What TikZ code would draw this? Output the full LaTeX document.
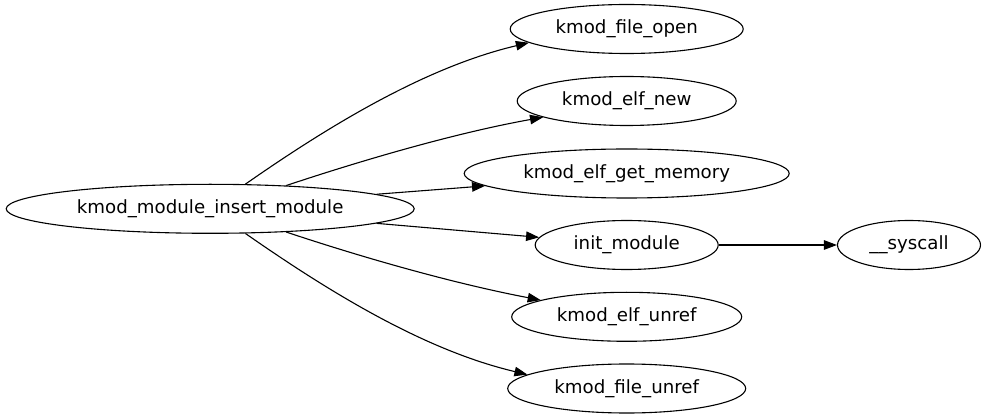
\documentclass[tikz,border=0pt]{standalone}
\usepackage{fontspec}
\setmainfont{DejaVu Sans}
\usepackage{tikz}
\usetikzlibrary{shapes.geometric, arrows.meta}

\begin{document}
\begin{tikzpicture}[x = 1pt, y = -1pt,
    funzione/.style = {ellipse, draw, line width = 1.1pt, inner sep = 0pt, minimum height = 49pt, font = \fontsize{18.2}{22}\selectfont},
    chiamata/.style = {line width = 1.1pt, -{Triangle[length = 13pt, width = 9.5pt]}}]
    \useasboundingbox (0,0) rectangle (987,419);
    \pgfmathsetmacro{\xcol}{626.7}
    % Nodi
    \node[funzione, minimum width = 408pt] (insert) at (210.2,208.8) {kmod\_module\_insert\_module};
    \node[funzione, minimum width = 233pt] (fileopen) at (\xcol,29) {kmod\_file\_open};
    \node[funzione, minimum width = 219pt] (elfnew) at (\xcol,101) {kmod\_elf\_new};
    \node[funzione, minimum width = 325pt] (elfmem) at (\xcol,173.5) {kmod\_elf\_get\_memory};
    \node[funzione, minimum width = 183pt] (initmod) at (\xcol,245) {init\_module};
    \node[funzione, minimum width = 230pt] (elfunref) at (\xcol,316.8) {kmod\_elf\_unref};
    \node[funzione, minimum width = 238pt] (fileunref) at (\xcol,388.5) {kmod\_file\_unref};
    \node[funzione, minimum width = 143pt] (syscall) at (909,245) {\_\_syscall};
    % Archi
    \draw[chiamata] (insert.35) .. controls +(86,-60) and +(-102,24) .. (fileopen.188);
    \draw[chiamata] (insert.17) .. controls +(81,-27) and +(-84,15) .. (elfnew.191);
    \draw[chiamata] (insert.5) -- (elfmem.185);
    \draw[chiamata] (insert.-5) -- (initmod.175);
    \draw[chiamata] (insert.-17) .. controls +(81,27) and +(-84,-16) .. (elfunref.169);
    \draw[chiamata] (insert.-35) .. controls +(86,60) and +(-102,-24) .. (fileunref.172);
    \draw[chiamata] (initmod.east) -- (syscall.west);
\end{tikzpicture}
\end{document}
